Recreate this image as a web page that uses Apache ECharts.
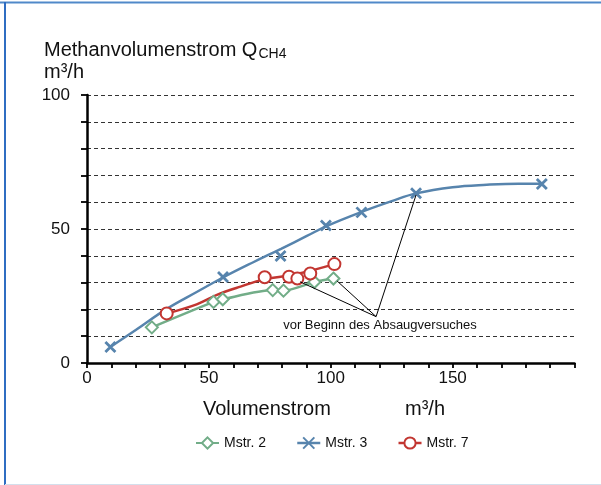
<!DOCTYPE html>
<html>
<head>
<meta charset="utf-8">
<script src="https://cdn.jsdelivr.net/npm/echarts@6/dist/echarts.min.js"></script>
<style>
  html, body { margin: 0; padding: 0; background: #fff; }
  #chart { width: 601px; height: 485px; }
</style>
</head>
<body>
<div id="chart"></div>
<script>
// Measured series (Volumenstrom m³/h, Methanvolumenstrom m³/h)
const seriesNames = ['Mstr. 2', 'Mstr. 3', 'Mstr. 7'];
const mstr2X = [26.6, 51.9, 55.7, 76.2, 80.6, 93.3, 101.1];
const mstr2Y = [13.3, 22.8, 23.8, 27.2, 27.0, 30.2, 31.5];
const mstr3X = [9.6, 55.8, 79.4, 98.0, 112.6, 135.0, 186.6];
const mstr3Y = [6.0, 32.1, 39.9, 51.3, 56.2, 63.3, 66.8];
const mstr7X = [32.7, 72.9, 82.9, 86.3, 91.6, 101.5];
const mstr7Y = [18.5, 32.0, 32.2, 31.5, 33.4, 36.9];

// Smoothed trend curves for Mstr. 3 and Mstr. 7
const trend3X = [9.6, 20, 32.7, 45, 56, 68, 79.6, 90, 98.3, 112.7, 125, 135, 150, 164, 177, 186.5];
const trend3Y = [6.0, 12.3, 20.2, 26.5, 32.0, 37.5, 42.6, 47.3, 51.1, 56.4, 60.4, 63.3, 65.6, 66.5, 66.9, 66.9];
const trend7X = [32.7, 45, 53.3, 63, 72.7, 86, 101.5];
const trend7Y = [18.5, 21.9, 25.4, 28.5, 31.2, 33.2, 36.9];

// Axis tick labels
const xTickLabels = [0, 50, 100, 150];
const yTickLabels = [0, 50, 100];

// Annotation: leader lines converge on one point below the curves
const noteText = 'vor Beginn des Absaugversuches';
const noteAnchor = [118.6, 17.3];
const noteTargets = [[135.0, 62.7], [102.6, 30.6], [87.4, 30.3]];
const noteTextAt = [120.2, 14.0];

const colGreen = '#72ad88';
const colBlue = '#5784ad';
const colRed = '#c23631';
const FONT = '"Liberation Sans", Arial, sans-serif';

const zip = (xs, ys) => xs.map((x, i) => [x, ys[i]]);
const crossPath = 'path://M0,0L10,10M10,0L0,10';

function textWidth(str, size) {
  const ctx = document.createElement('canvas').getContext('2d');
  ctx.font = size + 'px ' + FONT;
  return ctx.measureText(str).width;
}

const chart = echarts.init(document.getElementById('chart'), null, { renderer: 'canvas' });

const titleMain = 'Methanvolumenstrom Q';
const titleSize = 20;
const subX = 44 + textWidth(titleMain, titleSize) + 1;

chart.setOption({
  animation: false,
  backgroundColor: '#fff',
  textStyle: { fontFamily: FONT },
  grid: { left: 87, right: 26.5, top: 95, bottom: 122, containLabel: false },
  xAxis: {
    type: 'value', min: 0, max: 200, interval: 10,
    axisLine: { show: true, onZero: false, lineStyle: { color: '#000', width: 2.5 } },
    axisTick: { show: true, inside: false, length: 5, lineStyle: { color: '#000', width: 1.8 } },
    axisLabel: {
      color: '#111', fontSize: 17, fontFamily: FONT, margin: 7,
      formatter: v => xTickLabels.includes(v) ? String(v) : ''
    },
    splitLine: { show: false }
  },
  yAxis: {
    type: 'value', min: 0, max: 100, interval: 10,
    axisLine: { show: true, onZero: false, lineStyle: { color: '#000', width: 2.5 } },
    axisTick: { show: true, inside: false, length: 6, lineStyle: { color: '#000', width: 1.8 } },
    axisLabel: {
      color: '#111', fontSize: 17, fontFamily: FONT, margin: 17,
      formatter: v => yTickLabels.includes(v) ? String(v) : ''
    },
    splitLine: { show: true, lineStyle: { color: '#333', width: 1, type: [4, 3] } }
  },
  legend: {
    left: 190, top: 431,
    itemWidth: 23, itemHeight: 14, itemGap: 30,
    textStyle: { fontSize: 14, color: '#111', fontFamily: FONT },
    data: [
      { name: seriesNames[0] },
      { name: seriesNames[1], lineStyle: { color: colBlue, width: 2.5, opacity: 1 } },
      { name: seriesNames[2], lineStyle: { color: colRed, width: 2.5, opacity: 1 } }
    ]
  },
  graphic: [
    { type: 'line', shape: { x1: 0, y1: 2.5, x2: 601, y2: 2.5 }, style: { stroke: '#5089c9', lineWidth: 2 }, silent: true },
    { type: 'line', shape: { x1: 5, y1: 2, x2: 5, y2: 485 }, style: { stroke: '#2f6dc2', lineWidth: 2 }, silent: true },
    { type: 'line', shape: { x1: 5, y1: 484.5, x2: 601, y2: 484.5 }, style: { stroke: '#d3dfec', lineWidth: 1 }, silent: true },
    { type: 'text', x: 44, y: 50, style: { text: titleMain, font: titleSize + 'px ' + FONT, fill: '#111', verticalAlign: 'middle' } },
    { type: 'text', x: subX, y: 54.6, style: { text: 'CH4', font: '14px ' + FONT, fill: '#111', verticalAlign: 'middle' } },
    { type: 'text', x: 44, y: 72, style: { text: 'm³/h', font: titleSize + 'px ' + FONT, fill: '#111', verticalAlign: 'middle' } },
    { type: 'text', x: 203, y: 409, style: { text: 'Volumenstrom', font: titleSize + 'px ' + FONT, fill: '#111', verticalAlign: 'middle' } },
    { type: 'text', x: 405, y: 409, style: { text: 'm³/h', font: titleSize + 'px ' + FONT, fill: '#111', verticalAlign: 'middle' } }
  ],
  series: [
    {
      name: 'Trend Mstr. 3', type: 'line', z: 2,
      data: zip(trend3X, trend3Y), smooth: 0.4, showSymbol: false, symbol: 'none',
      lineStyle: { color: colBlue, width: 2.5 },
      markLine: {
        silent: true, symbol: ['none', 'none'], animation: false,
        lineStyle: { color: '#000', width: 1, type: 'solid' },
        label: { show: false },
        data: noteTargets.map(t => [{ coord: noteAnchor }, { coord: t }])
      },
      markPoint: {
        silent: true, symbol: 'circle', symbolSize: 1,
        itemStyle: { color: 'rgba(0,0,0,0)' },
        label: { show: true, position: 'inside', formatter: noteText, fontSize: 13, color: '#111', fontFamily: FONT },
        data: [{ coord: noteTextAt }]
      }
    },
    {
      name: 'Trend Mstr. 7', type: 'line', z: 2,
      data: zip(trend7X, trend7Y), smooth: 0.4, showSymbol: false, symbol: 'none',
      lineStyle: { color: colRed, width: 2.5 }
    },
    {
      name: seriesNames[0], type: 'line', z: 3,
      data: zip(mstr2X, mstr2Y), smooth: 0.25,
      symbol: 'emptyDiamond', symbolSize: 12, showAllSymbol: true,
      lineStyle: { color: colGreen, width: 2.5 },
      itemStyle: { color: colGreen, borderColor: colGreen, borderWidth: 2 }
    },
    {
      name: seriesNames[1], type: 'line', z: 4,
      data: zip(mstr3X, mstr3Y),
      symbol: crossPath, symbolSize: 10, showAllSymbol: true,
      lineStyle: { color: colBlue, width: 0, opacity: 0 },
      itemStyle: { color: colBlue, borderColor: colBlue, borderWidth: 2.8 }
    },
    {
      name: seriesNames[2], type: 'line', z: 4,
      data: zip(mstr7X, mstr7Y),
      symbol: 'emptyCircle', symbolSize: 12, showAllSymbol: true,
      lineStyle: { color: colRed, width: 0, opacity: 0 },
      itemStyle: { color: colRed, borderColor: colRed, borderWidth: 2.5 }
    }
  ]
});
</script>
</body>
</html>
